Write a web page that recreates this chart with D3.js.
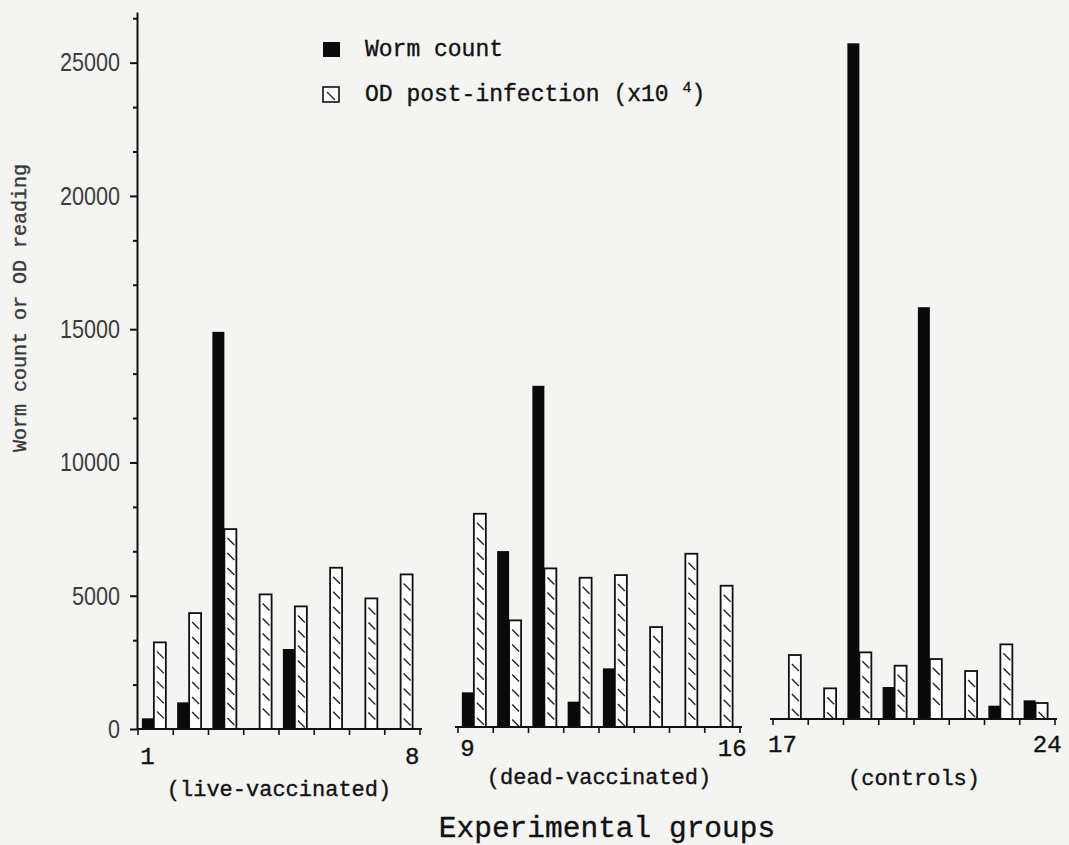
<!DOCTYPE html>
<html>
<head>
<meta charset="utf-8">
<script src="https://cdn.jsdelivr.net/npm/d3@7"></script>
<style>
  body { margin: 0; background: #f4f4f2; }
  svg { display: block; }
  .mono { font-family: "Liberation Mono", "Courier New", monospace; fill: #111; stroke: #111; stroke-width: 0.35px; }
  .y-axis text { font-family: "Liberation Sans", Arial, sans-serif; font-size: 26px; fill: #3c3c3c; }
  .y-axis path, .y-axis line { stroke: #111; stroke-width: 2; }
</style>
</head>
<body>
<div id="chart"></div>
<script>
// Dogs in each experimental group
var groups = ["live-vaccinated", "dead-vaccinated", "controls"];
var groupDogs = [
  [1, 2, 3, 4, 5, 6, 7, 8],
  [9, 10, 11, 12, 13, 14, 15, 16],
  [17, 18, 19, 20, 21, 22, 23, 24]
];

// Values (dog 1 .. dog 24)
var wormCount = [400, 1000, 14900, 0, 3000, 0, 0, 0,
  1300, 6600, 12800, 950, 2200, 0, 0, 0,
  0, 0, 25350, 1200, 15450, 0, 500, 700];
var odReading = [3250, 4350, 7500, 5050, 4600, 6050, 4900, 5800,
  8000, 4000, 5950, 5600, 5700, 3750, 6500, 5300,
  2400, 1150, 2500, 2000, 2250, 1800, 2800, 600];

var yTicks = [0, 5000, 10000, 15000, 20000, 25000];
var yMinorTicks = [1667, 3333, 6667, 8333, 11667, 13333, 16667, 18333, 21667, 23333, 26667];

var svgWidth = 1069;
var svgHeight = 845;

// layout of the three panels (each one sits on its own baseline)
var panelRange = [[138, 420], [458, 740], [773, 1055]];
var panelShift = [0, -2, -10];
var numberDy = [27, 21, 25];
var groupDy = [59, 49, 58];

var svg = d3.select("#chart")
  .append("svg")
  .attr("width", svgWidth)
  .attr("height", svgHeight);

var y = d3.scaleLinear()
  .domain([0, 26900])
  .range([729, 12]);

// Y axis, major ticks with labels and minor ticks
var yAxis = svg.append("g")
  .classed("y-axis", true)
  .attr("transform", "translate(137, 0)")
  .call(d3.axisLeft(y)
    .tickValues(yTicks)
    .tickFormat(d3.format("d"))
    .tickSize(7)
    .tickSizeOuter(0)
    .tickPadding(10));

// narrow, tall digits like the original lettering
yAxis.selectAll(".tick text")
  .attr("textLength", function() { return this.textContent.length * 12; })
  .attr("lengthAdjust", "spacingAndGlyphs");

svg.append("g")
  .classed("y-axis", true)
  .attr("transform", "translate(137, 0)")
  .call(d3.axisLeft(y).tickValues(yMinorTicks).tickSize(4).tickSizeOuter(0).tickFormat(""))
  .select(".domain").remove();

svg.append("text")
  .classed("mono", true)
  .attr("transform", "translate(26, 308) rotate(-90)")
  .attr("text-anchor", "middle")
  .attr("font-size", 20)
  .style("fill", "#3a3a3a")
  .style("stroke", "#3a3a3a")
  .text("Worm count or OD reading");

var base = y(0);

groupDogs.forEach(function(dogs, i) {
  var x = d3.scaleBand()
    .domain(dogs)
    .range(panelRange[i]);
  var bw = x.bandwidth();

  var panel = svg.append("g")
    .attr("transform", `translate(0, ${panelShift[i]})`);

  var rows = dogs.map(function(d) {
    return { dog: d, worm: wormCount[d - 1], od: odReading[d - 1] };
  });

  // hatched OD bars
  var od = panel.selectAll(".od")
    .data(rows)
    .enter().append("g")
    .classed("od", true);

  od.append("rect")
    .attr("x", d => x(d.dog) + bw * 0.45)
    .attr("y", d => y(d.od))
    .attr("width", bw * 0.34)
    .attr("height", d => base - y(d.od))
    .attr("fill", "#fff")
    .attr("stroke", "#111")
    .attr("stroke-width", 1.8);

  od.append("path")
    .attr("d", function(d) {
      var x0 = x(d.dog) + bw * 0.45;
      var w = bw * 0.34;
      return d3.range(y(d.od) + 9, base - 6, 15).map(function(yy) {
        return `M${x0 + 3},${yy}L${x0 + w - 2},${yy + 7}`;
      }).join("");
    })
    .attr("stroke", "#222")
    .attr("stroke-width", 1.4)
    .attr("fill", "none");

  // solid worm count bars
  panel.selectAll(".worm")
    .data(rows.filter(d => d.worm > 0))
    .enter().append("rect")
    .classed("worm", true)
    .attr("x", d => x(d.dog) + bw * 0.11)
    .attr("y", d => y(d.worm))
    .attr("width", bw * 0.34)
    .attr("height", d => base - y(d.worm))
    .attr("fill", "#0a0a0a");

  // baseline with ticks at the band edges
  var x0 = i === 0 ? 137 : panelRange[i][0] - 3;
  panel.append("line")
    .attr("x1", x0)
    .attr("x2", panelRange[i][1] + 2)
    .attr("y1", base)
    .attr("y2", base)
    .attr("stroke", "#111")
    .attr("stroke-width", 2);

  var edges = dogs.map(d => x(d)).concat([panelRange[i][1]]);
  panel.selectAll(".edge")
    .data(edges)
    .enter().append("line")
    .attr("x1", d => d)
    .attr("x2", d => d)
    .attr("y1", base)
    .attr("y2", base + 6)
    .attr("stroke", "#111")
    .attr("stroke-width", 1.6);

  // first / last dog number
  var first = dogs[0];
  var last = dogs[dogs.length - 1];
  panel.append("text")
    .classed("mono", true)
    .attr("x", x(first) + bw * 0.27)
    .attr("y", base + numberDy[i])
    .attr("dy", "0.35em")
    .attr("text-anchor", "middle")
    .attr("font-size", 24)
    .text(first);
  panel.append("text")
    .classed("mono", true)
    .attr("x", x(last) + bw * 0.78)
    .attr("y", base + numberDy[i])
    .attr("dy", "0.35em")
    .attr("text-anchor", "middle")
    .attr("font-size", 24)
    .text(last);

  panel.append("text")
    .classed("mono", true)
    .attr("x", (panelRange[i][0] + panelRange[i][1]) / 2)
    .attr("y", base + groupDy[i])
    .attr("dy", "0.35em")
    .attr("text-anchor", "middle")
    .attr("font-size", 22)
    .text(`(${groups[i]})`);
});

svg.append("text")
  .classed("mono", true)
  .attr("x", 607)
  .attr("y", 837)
  .attr("text-anchor", "middle")
  .attr("font-size", 29.5)
  .text("Experimental groups");

// Legend
var legend = svg.append("g")
  .attr("transform", "translate(323, 42)");

legend.append("rect")
  .attr("width", 17)
  .attr("height", 15)
  .attr("fill", "#0a0a0a");

legend.append("text")
  .classed("mono", true)
  .attr("x", 42)
  .attr("y", 14)
  .attr("font-size", 23)
  .text("Worm count");

legend.append("rect")
  .attr("y", 45)
  .attr("width", 16)
  .attr("height", 15)
  .attr("fill", "#fff")
  .attr("stroke", "#111")
  .attr("stroke-width", 1.6);

legend.append("path")
  .attr("d", "M4,50L12,58")
  .attr("stroke", "#222")
  .attr("stroke-width", 1.3);

var odLabel = legend.append("text")
  .classed("mono", true)
  .attr("x", 42)
  .attr("y", 59)
  .attr("font-size", 23);
odLabel.append("tspan").text("OD post-infection (x10 ");
odLabel.append("tspan").attr("dy", -9).attr("font-size", 15).text("4");
odLabel.append("tspan").attr("dy", 9).text(")");
</script>
</body>
</html>
